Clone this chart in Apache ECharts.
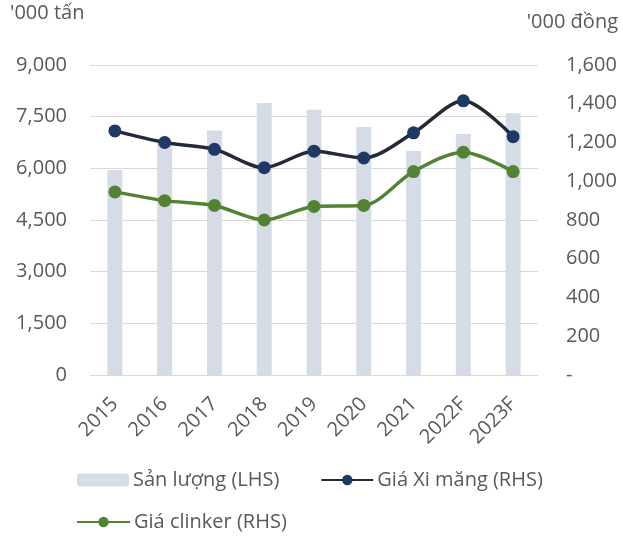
<!DOCTYPE html>
<html>
<head>
<meta charset="utf-8">
<script src="https://cdn.jsdelivr.net/npm/echarts@6/dist/echarts.min.js"></script>
<style>
  html, body { margin: 0; padding: 0; background: #fff; }
  #chart { width: 623px; height: 538px; }
</style>
</head>
<body>
<div id="chart"></div>
<script>
// danh sách năm
const years = ['2015', '2016', '2017', '2018', '2019', '2020', '2021', '2022F', '2023F'];
// sản lượng, '000 tấn (trục trái)
const sanLuong = [5950, 6750, 7100, 7900, 7700, 7200, 6500, 7000, 7600];
// giá xi măng, '000 đồng (trục phải)
const giaXiMang = [1260, 1200, 1165, 1070, 1155, 1120, 1250, 1415, 1230];
// giá clinker, '000 đồng (trục phải)
const giaClinker = [945, 900, 875, 800, 870, 875, 1050, 1150, 1050];

const textColor = '#595959';
const fontFamily = '"Open Sans", "Noto Sans", sans-serif';

let myChart = echarts.init(document.getElementById('chart'));

const option = {
    animation: false,
    textStyle: { fontFamily: fontFamily },
    grid: { left: 90, right: 85, top: 65, bottom: 163, containLabel: false },
    graphic: [
        { type: 'text', left: 10, top: 3, style: { text: "'000 tấn", fontSize: 20, fill: textColor, fontFamily: fontFamily } },
        { type: 'text', right: 5, top: 12, style: { text: "'000 đồng", fontSize: 20, fill: textColor, fontFamily: fontFamily } }
    ],
    legend: [
        {
            data: ['Sản lượng (LHS)', 'Giá Xi măng (RHS)'],
            left: 77, top: 470, padding: 0,
            itemWidth: 52, itemHeight: 13, itemGap: 41,
            textStyle: { fontSize: 20, color: textColor, padding: [0, 0, 0, -1] }
        },
        {
            data: ['Giá clinker (RHS)'],
            left: 76, top: 512, padding: 0,
            itemWidth: 53, itemHeight: 13,
            textStyle: { fontSize: 20, color: textColor, padding: [0, 0, 0, -1] }
        }
    ],
    xAxis: {
        type: 'category',
        data: years,
        axisLine: { lineStyle: { color: '#d9d9d9', width: 1 } },
        axisTick: { show: false },
        axisLabel: { rotate: 45, fontSize: 20, color: textColor, margin: 26, interval: 0 }
    },
    yAxis: [
        {
            type: 'value',
            min: 0, max: 9000, interval: 1500,
            axisLine: { show: false },
            axisTick: { show: false },
            splitLine: { lineStyle: { color: '#d9d9d9', width: 1 } },
            axisLabel: {
                fontSize: 20, color: textColor, margin: 23,
                formatter: function (v) { return v.toLocaleString('en-US'); }
            }
        },
        {
            type: 'value',
            min: 0, max: 1600, interval: 200,
            position: 'right',
            axisLine: { show: false },
            axisTick: { show: false },
            splitLine: { show: false },
            axisLabel: {
                fontSize: 20, color: textColor, margin: 28,
                formatter: function (v) { return v === 0 ? '-' : v.toLocaleString('en-US'); }
            }
        }
    ],
    series: [
        {
            name: 'Sản lượng (LHS)',
            type: 'bar',
            data: sanLuong,
            barWidth: 15,
            itemStyle: { color: '#d6dce5' }
        },
        {
            name: 'Giá Xi măng (RHS)',
            type: 'line',
            yAxisIndex: 1,
            data: giaXiMang,
            smooth: 0.3,
            symbol: 'circle',
            symbolSize: 13,
            lineStyle: { color: '#222a35', width: 3.5 },
            itemStyle: { color: '#1f3864' }
        },
        {
            name: 'Giá clinker (RHS)',
            type: 'line',
            yAxisIndex: 1,
            data: giaClinker,
            smooth: 0.3,
            symbol: 'circle',
            symbolSize: 13,
            lineStyle: { color: '#548235', width: 3.5 },
            itemStyle: { color: '#548235' }
        }
    ]
};

myChart.setOption(option);
</script>
</body>
</html>
